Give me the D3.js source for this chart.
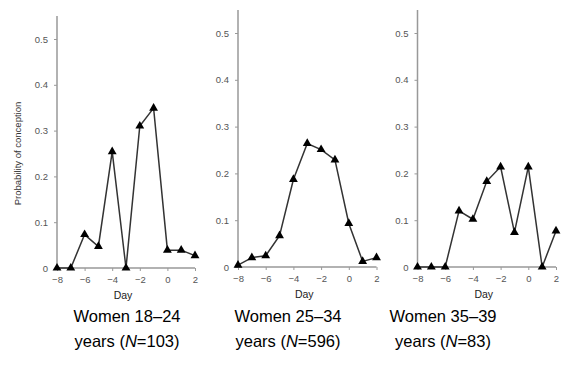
<!DOCTYPE html>
<html><head><meta charset="utf-8">
<script src="https://cdn.jsdelivr.net/npm/d3@7"></script>
<style>body{margin:0;background:#fff}svg{display:block}</style>
</head><body>
<svg id="c" width="586" height="366"></svg>
<script>
const days = [-8,-7,-6,-5,-4,-3,-2,-1,0,1,2];
const women18_24 = [0,0,0.073,0.047,0.254,0,0.31,0.349,0.039,0.039,0.027];
const women25_34 = [0.004,0.02,0.024,0.067,0.187,0.264,0.251,0.229,0.093,0.012,0.02];
const women35_39 = [0,0,0,0.12,0.102,0.183,0.214,0.074,0.214,0,0.077];
const xTicks = [-8,-6,-4,-2,0,2];
const yTicks = [0,0.1,0.2,0.3,0.4,0.5];
const captions1 = ["Women 18\u201324","Women 25\u201334","Women 35\u201339"];
const captionN = ["103","596","83"];
const xLabel = "Day";
const yLabel = "Probability of conception";

const panels = [
  {vals: women18_24, x0:57, x1:195, y0:268, y5:39, top:16, cap:127, ylab:true},
  {vals: women25_34, x0:238, x1:376.5, y0:267, y5:33, top:10, cap:288, ylab:false},
  {vals: women35_39, x0:417.5, x1:556, y0:267, y5:33, top:10, cap:443, ylab:false}
];
const svg = d3.select("#c");
const font = "'Liberation Sans', Arial, sans-serif";

panels.forEach((p,i)=>{
  const x = d3.scaleLinear().domain([-8,2]).range([p.x0,p.x1]);
  const y = d3.scaleLinear().domain([0,0.5]).range([p.y0,p.y5]);
  const g = svg.append("g");
  g.append("line").attr("x1",p.x0).attr("x2",p.x0).attr("y1",p.top).attr("y2",p.y0)
    .attr("stroke","#999").attr("stroke-width",1.5);
  const ya = g.append("g").attr("transform",`translate(${p.x0},0)`)
    .call(d3.axisLeft(y).tickValues(yTicks).tickSize(3).tickPadding(6)
      .tickFormat(d=> d===0?"0":d3.format(".1f")(d)));
  ya.select(".domain").remove();
  ya.selectAll(".tick line").attr("stroke","#999");
  ya.selectAll(".tick text").attr("fill","#555").style("font-family",font).style("font-size","9.5px");
  const xa = g.append("g").attr("transform",`translate(0,${p.y0})`)
    .call(d3.axisBottom(x).tickValues(xTicks).tickSize(3).tickPadding(5).tickFormat(d3.format("d")));
  xa.select(".domain").attr("stroke","#999").attr("stroke-width",1.5).attr("d",`M${p.x0},0H${p.x1}`);
  xa.selectAll(".tick line").attr("stroke","#999");
  xa.selectAll(".tick text").attr("fill","#555").style("font-family",font).style("font-size","9.5px");
  g.append("text").attr("x",(p.x0+p.x1)/2 - 3).attr("y",p.y0+31).attr("text-anchor","middle")
    .style("font-family",font).style("font-size","10.5px").attr("fill","#222").text(xLabel);
  if(p.ylab){
    g.append("text").attr("transform",`translate(21,${(p.y0+p.y5)/2}) rotate(-90)`)
      .attr("text-anchor","middle").style("font-family",font).style("font-size","9.5px")
      .attr("fill","#333").text(yLabel);
  }
  const line = d3.line().x((d,j)=>x(days[j])).y(d=>y(d));
  g.append("path").datum(p.vals).attr("d",line).attr("fill","none")
    .attr("stroke","#333").attr("stroke-width",1.5);
  g.selectAll(".m").data(p.vals).enter().append("path")
    .attr("transform",(d,j)=>`translate(${x(days[j])},${y(d)})`)
    .attr("d",d3.symbol(d3.symbolTriangle,34)()).attr("fill","#000");
  svg.append("text").attr("x",p.cap).attr("y",322).attr("text-anchor","middle")
    .style("font-family",font).style("font-size","16.5px").attr("fill","#000").text(captions1[i]);
  const t2 = svg.append("text").attr("x",p.cap).attr("y",347).attr("text-anchor","middle")
    .style("font-family",font).style("font-size","16.5px").attr("fill","#000");
  t2.append("tspan").text("years (");
  t2.append("tspan").style("font-style","italic").text("N");
  t2.append("tspan").text("="+captionN[i]+")");
});
</script>
</body></html>
